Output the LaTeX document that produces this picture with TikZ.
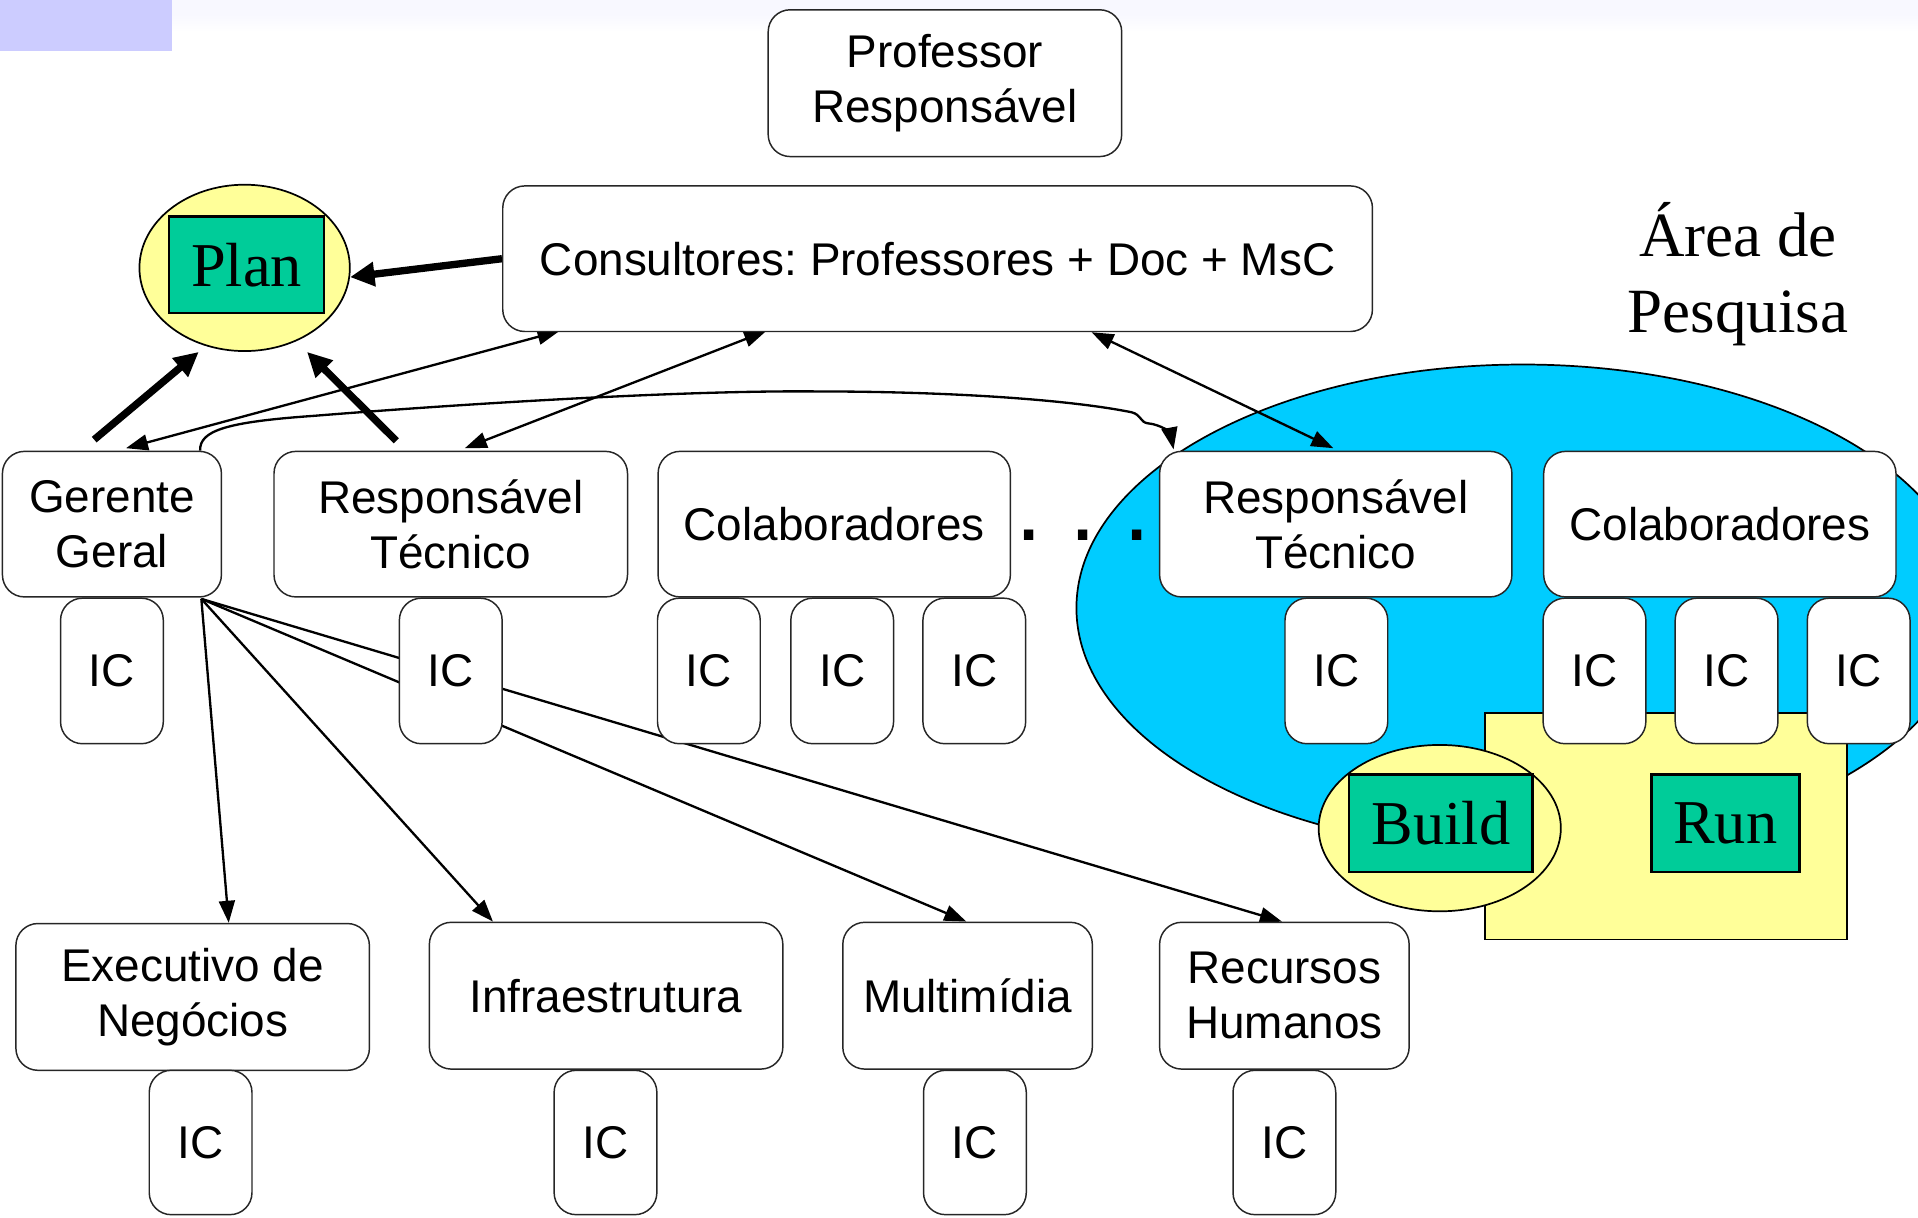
\documentclass[tikz,border=0pt]{standalone}
\usepackage{fontspec}
\setmainfont{Liberation Sans}
\newfontfamily\serifx{Liberation Serif}
\usetikzlibrary{arrows.meta,shapes.geometric}
\definecolor{skyb}{RGB}{0,204,255}
\definecolor{paley}{RGB}{255,255,153}
\definecolor{tealg}{RGB}{0,204,153}
\definecolor{lav}{RGB}{204,204,255}
\definecolor{lavlight}{RGB}{248,248,255}
\pgfdeclarelayer{back}
\pgfdeclarelayer{links}
\pgfsetlayers{back,links,main}
\frenchspacing
\begin{document}
\begin{tikzpicture}[x=0.5pt,y=-0.5pt,
  box/.style={draw=black!85, line width=0.6pt, fill=white, rounded corners=9pt,
    align=center, inner sep=0pt, font=\fontsize{18.75}{22.5}\selectfont},
  rowbox/.style={box, minimum height=59.5pt},
  icbox/.style={box, minimum width=42pt, minimum height=59.5pt},
  greenbox/.style={draw=black, line width=1pt, fill=tealg, inner sep=0pt,
    minimum height=40pt, font=\serifx\fontsize{25.5}{30}\selectfont},
  blob/.style={ellipse, draw=black, line width=0.7pt, fill=paley, inner sep=0pt},
  lnk/.style={line width=0.95pt, -{Triangle[length=9pt,width=6.5pt]}},
  dbl/.style={line width=0.95pt, {Triangle[length=9pt,width=6.5pt]}-{Triangle[length=9pt,width=6.5pt]}},
  thk/.style={line width=3pt, -{Triangle[length=10pt,width=9.5pt]}}
]
\useasboundingbox (0,0) rectangle (1568,995);

% ---------- background shapes ----------
\begin{pgfonlayer}{back}
  \fill[lavlight] (0,0) rectangle (1568,12);
  \shade[top color=lavlight, bottom color=white] (0,12) rectangle (1568,26);
  \fill[lav] (0,0) rectangle (141,41.5);
  \draw[fill=skyb, line width=0.7pt] (1245,497) ellipse [x radius=365, y radius=199];
  \draw[fill=paley, line width=0.6pt] (1214,583) rectangle (1510,768);
  \node[blob, minimum width=99pt, minimum height=68pt] (buildc) at (1177,677) {};
\end{pgfonlayer}

% ---------- top ----------
\node[box, minimum width=144.5pt, minimum height=60pt] (prof) at (772.5,68) {Professor\\Responsável};
\node[box, minimum width=355.5pt, minimum height=59.5pt] (cons) at (766.5,211.5) {Consultores: Professores + Doc + MsC};

\node[blob, minimum width=86pt, minimum height=68pt] (planc) at (200,219) {};
\node[greenbox, minimum width=63.5pt, minimum height=39.5pt] (plan) at (201.5,216.5) {Plan};

\node[font=\serifx\fontsize{25.75}{31}\selectfont, align=center, inner sep=0pt] (area) at (1421,224) {Área de\\Pesquisa};

% ---------- second row ----------
\node[rowbox, minimum width=89.5pt] (ger) at (91.5,428.5) {Gerente\\Geral};
\node[rowbox, minimum width=144.5pt] (respA) at (368.5,428.5) {Responsável\\Técnico};
\node[rowbox, minimum width=144pt] (colA) at (682,428.5) {Colaboradores};
\node[rowbox, minimum width=144pt] (respB) at (1092,428.5) {Responsável\\Técnico};
\node[rowbox, minimum width=144pt] (colB) at (1406,428.5) {Colaboradores};

\node[font=\fontsize{40}{40}\selectfont, anchor=base, inner sep=0pt] (dots) at (885.5,442) {.\ .\ .};

\node[icbox] (icG) at (91.5,548.5) {IC};
\node[icbox] (icRA) at (368.5,548.5) {IC};
\node[icbox] (icCA1) at (579.5,548.5) {IC};
\node[icbox] (icCA2) at (688.5,548.5) {IC};
\node[icbox] (icCA3) at (796.5,548.5) {IC};
\node[icbox] (icRB) at (1092.5,548.5) {IC};
\node[icbox] (icCB1) at (1303.5,548.5) {IC};
\node[icbox] (icCB2) at (1411.5,548.5) {IC};
\node[icbox] (icCB3) at (1519.5,548.5) {IC};

% ---------- build / run ----------
\node[greenbox, minimum width=75pt] (build) at (1178,673) {Build};
\node[greenbox, minimum width=60.5pt] (run) at (1410.5,673) {Run};

% ---------- bottom row ----------
\node[box, minimum width=144.5pt, minimum height=60pt] (exec) at (157.5,815) {Executivo de\\Negócios};
\node[box, minimum width=144.5pt, minimum height=60pt] (infra) at (495.5,814) {Infraestrutura};
\node[box, minimum width=102pt, minimum height=60pt] (multi) at (791,814) {Multimídia};
\node[box, minimum width=102pt, minimum height=60pt] (rh) at (1050,814) {Recursos\\Humanos};

\node[box, minimum width=42pt, minimum height=59pt] (icE) at (164,934) {IC};
\node[box, minimum width=42pt, minimum height=59pt] (icI) at (495,934) {IC};
\node[box, minimum width=42pt, minimum height=59pt] (icM) at (797,934) {IC};
\node[box, minimum width=42pt, minimum height=59pt] (icH) at (1050,934) {IC};

% ---------- connectors ----------
\begin{pgfonlayer}{links}
  \draw[thk] (cons.west) -- (planc.-5);
  \draw[thk] ([shift={(-14.5,-9)}]ger.north) -- ([shift={(-37.5,0)}]planc.south);
  \draw[thk] ([shift={(-44.5,-8)}]respA.north) -- ([shift={(51,0)}]planc.south);

  \draw[dbl] ([shift={(11.5,-2)}]ger.north) -- ([shift={(47,-1)}]cons.south west);
  \draw[dbl] ([shift={(11.5,-2)}]respA.north) -- ([shift={(216,-1)}]cons.south west);
  \draw[dbl] ([shift={(482,0)}]cons.south west) -- ([shift={(-2,-2)}]respB.north);

  \draw[lnk] ([shift={(-18,0)}]ger.north east)
     .. controls (163,352) and (185,345) .. (256,340)
     .. controls (380,330) and (560,319) .. (667,320)
     .. controls (770,320) and (870,326) .. (925,337)
     .. controls (933,339) and (932,345) .. (938,346)
     .. controls (950,347) and (957,355) .. ([shift={(12,-1)}]respB.north west);

  \draw[lnk] ([shift={(-17,1)}]ger.south east) -- ([shift={(29.5,0)}]exec.north);
  \draw[lnk] ([shift={(-17,1)}]ger.south east) -- ([shift={(-92.5,0)}]infra.north);
  \draw[lnk] ([shift={(-17,1)}]ger.south east) -- ([shift={(-1,0)}]multi.north);
  \draw[lnk] ([shift={(-17,1)}]ger.south east) -- ([shift={(-2,0)}]rh.north);
\end{pgfonlayer}
\end{tikzpicture}
\end{document}
